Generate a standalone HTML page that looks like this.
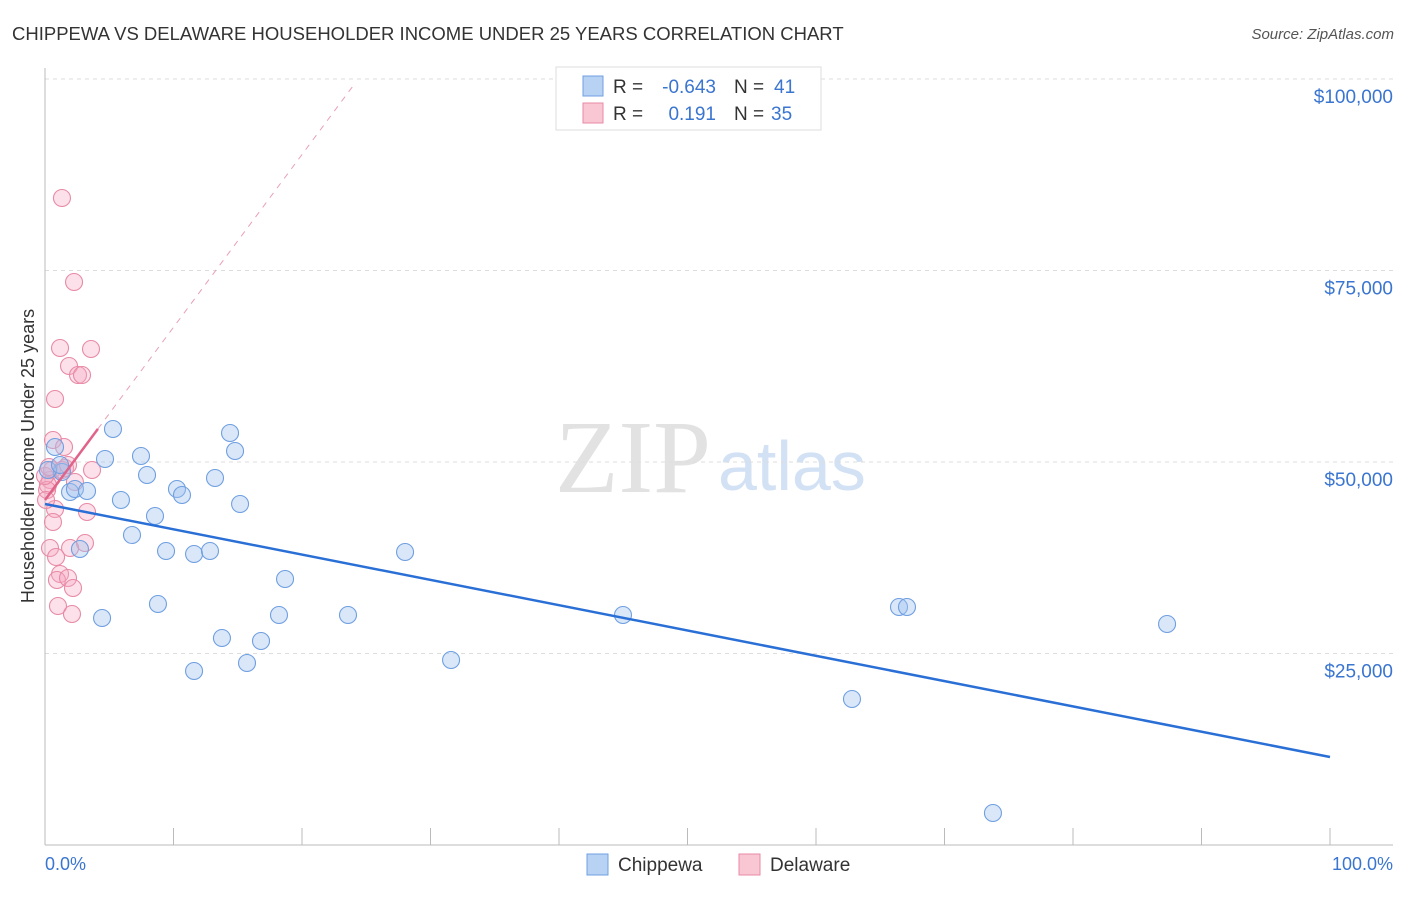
<!DOCTYPE html>
<html><head><meta charset="utf-8"><style>
body{margin:0;background:#fff;font-family:"Liberation Sans",sans-serif;}
svg text{font-family:"Liberation Sans",sans-serif;}
</style></head><body>
<svg width="1406" height="892">
<text x="12" y="40" font-size="18.5" fill="#333">CHIPPEWA VS DELAWARE HOUSEHOLDER INCOME UNDER 25 YEARS CORRELATION CHART</text>
<text x="1394" y="39" font-size="15" fill="#555" font-style="italic" text-anchor="end">Source: ZipAtlas.com</text>
<text x="555" y="492" font-size="104" fill="#e2e2e2" style="font-family:'Liberation Serif',serif">ZIP</text>
<text x="718" y="490" font-size="70" fill="#d3e1f5">atlas</text>
<g id="grid"></g>
<g id="axes"></g>
<g id="marks"></g>
<text transform="translate(34,456) rotate(-90)" font-size="18" fill="#333" text-anchor="middle">Householder Income Under 25 years</text>
<text x="45" y="870" font-size="18" fill="#3a75d0">0.0%</text>
<text x="1393" y="870" font-size="18" fill="#3a75d0" text-anchor="end">100.0%</text>
<g>
<rect x="556" y="67" width="265" height="63" fill="#fff" stroke="#ddd"/>
<rect x="583" y="76" width="20" height="20" fill="#b8d2f4" stroke="#6f9fe0"/>
<rect x="583" y="103" width="20" height="20" fill="#f9c6d4" stroke="#e88aa6"/>
<text x="613" y="93" font-size="19" fill="#333">R =</text>
<text x="716" y="93" font-size="19" fill="#3a75d0" text-anchor="end">-0.643</text>
<text x="734" y="93" font-size="19" fill="#333">N =</text>
<text x="774" y="93" font-size="19" fill="#3a75d0">41</text>
<text x="613" y="120" font-size="19" fill="#333">R =</text>
<text x="716" y="120" font-size="19" fill="#3a75d0" text-anchor="end">0.191</text>
<text x="734" y="120" font-size="19" fill="#333">N =</text>
<text x="771" y="120" font-size="19" fill="#3a75d0">35</text>
</g>
<g>
<rect x="587" y="854" width="21" height="21" fill="#b8d2f4" stroke="#6f9fe0"/>
<text x="618" y="871" font-size="19" fill="#333">Chippewa</text>
<rect x="739" y="854" width="21" height="21" fill="#f9c6d4" stroke="#e88aa6"/>
<text x="770" y="871" font-size="19" fill="#333">Delaware</text>
</g>
</svg>
<script>
const yTicks=[25000,50000,75000,100000];
const yTickLabels=["$25,000","$50,000","$75,000","$100,000"];
const blueX=[0.78,1.32,1.95,2.33,3.27,2.72,4.44,4.67,5.29,5.91,6.77,7.47,7.94,8.56,8.79,9.42,10.27,10.66,11.6,11.6,12.84,13.23,13.77,14.4,14.79,15.18,15.72,16.81,18.21,18.68,23.58,28.02,31.6,44.98,62.8,66.46,67.08,73.77,87.32,0.23,1.17];
const blueY=[51960,48695,46085,46475,46215,38643,29635,50392,54309,45040,40470,50784,48304,42951,31463,38382,46475,45693,37990,22716,38382,47912,27024,53787,51437,44518,23760,26632,30027,34726,30027,38251,24152,30027,19060,31071,31071,4178,28852,48956,49609];
const pinkX=[1.32,2.26,1.17,3.58,1.87,2.57,2.88,0.78,0.62,1.48,1.56,0.54,0.39,0.23,3.66,2.33,0.78,0.62,3.27,3.11,1.95,0.39,0.86,1.17,0.93,1.79,2.18,1.01,2.1,0.16,0,0.31,1.32,1.79,0.08];
const pinkY=[84466,73500,64883,64753,62533,61358,61358,58225,52873,51960,49218,48956,47650,46998,48956,47390,43865,42168,43473,39426,38773,38773,37598,35379,34596,34857,33551,31201,30157,46345,48173,49348,48956,49609,45040];
const blueTrend=[44518,11488];
const pinkTrend=[45040,270540];
const pinkSolidEnd=4.12;
const pinkDashEnd=23.97;
const NS="http://www.w3.org/2000/svg";
const X=v=>45+v*12.85;
const Y=v=>845-v/130.55;
function mk(tag,attrs,parent){const e=document.createElementNS(NS,tag);for(const k in attrs)e.setAttribute(k,attrs[k]);parent.appendChild(e);return e;}
const grid=document.getElementById('grid'),axes=document.getElementById('axes'),marks=document.getElementById('marks');
yTicks.forEach((t,i)=>{
 const l=mk('line',{x1:45,x2:1393,y1:Y(t),y2:Y(t),stroke:'#ddd','stroke-dasharray':'4,4'},grid);
 
 
 const tx=mk('text',{x:1393,y:Y(t)+24,'font-size':19,fill:'#3a75d0','text-anchor':'end'},grid);
 tx.textContent=yTickLabels[i];
 
 
});
const ax=mk('line',{x1:45,x2:1393,y1:845,y2:845,stroke:'#bbb'},axes);


const ay=mk('line',{x1:45,x2:45,y1:68,y2:845,stroke:'#bbb'},axes);


for(let i=0;i<=10;i++){const t=mk('line',{x1:X(i*10),x2:X(i*10),y1:828,y2:845,stroke:'#bbb'},axes);
 
 }
pinkX.forEach((v,i)=>{const c=mk('circle',{cx:X(v),cy:Y(pinkY[i]),r:8.5,fill:'rgba(246,170,195,0.35)',stroke:'#e88aa6','stroke-width':1.1},marks);
 
 });
blueX.forEach((v,i)=>{const c=mk('circle',{cx:X(v),cy:Y(blueY[i]),r:8.5,fill:'rgba(160,196,240,0.4)',stroke:'#6f9fe0','stroke-width':1.1},marks);
 
 });
const bt=mk('line',{x1:X(0),y1:Y(blueTrend[0]),x2:X(100),y2:Y(blueTrend[1]),stroke:'#2a6fd6','stroke-width':2.5},marks);


const ps=(pinkTrend[1]-pinkTrend[0])/100;
const pd=mk('line',{x1:X(pinkSolidEnd),y1:Y(pinkTrend[0]+ps*pinkSolidEnd),x2:X(pinkDashEnd),y2:Y(pinkTrend[0]+ps*pinkDashEnd),stroke:'#e8a0b6','stroke-width':1,'stroke-dasharray':'6,6'},marks);


const pt=mk('line',{x1:X(0),y1:Y(pinkTrend[0]),x2:X(pinkSolidEnd),y2:Y(pinkTrend[0]+ps*pinkSolidEnd),stroke:'#e0648a','stroke-width':2.5},marks);


</script>
</body></html>
